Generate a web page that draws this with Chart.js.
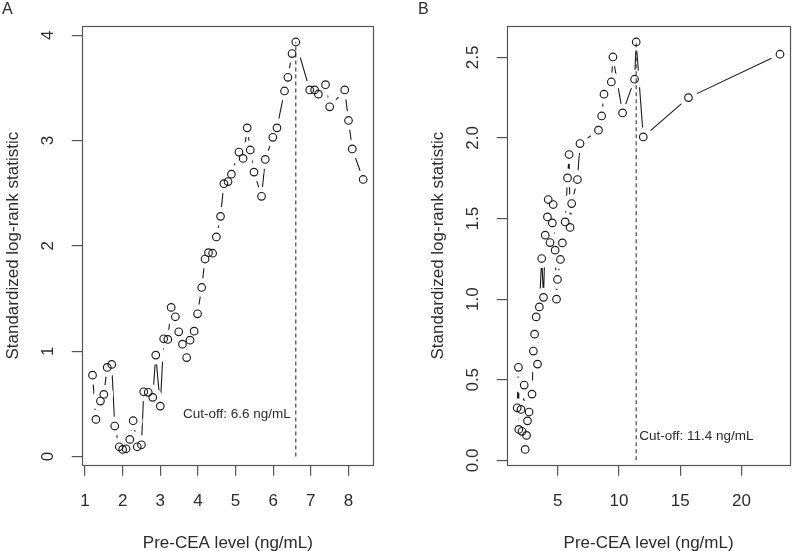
<!DOCTYPE html>
<html>
<head>
<meta charset="utf-8">
<script src="https://cdn.jsdelivr.net/npm/chart.js@4/dist/chart.umd.min.js"></script>
<style>
  html,body{margin:0;padding:0;background:#fff;}
  #wrap{display:flex;width:800px;height:551px;}
  canvas{display:block;}
</style>
</head>
<body>
<div id="wrap">
  <canvas id="chartA" width="400" height="551"></canvas>
  <canvas id="chartB" width="400" height="551"></canvas>
</div>
<script>
// ---------- Panel A data ----------
const xA = [1.20,1.29,1.41,1.50,1.59,1.71,1.79,1.91,2.00,2.09,2.19,2.28,2.39,2.50,2.56,2.68,2.80,2.88,3.00,3.09,
            3.20,3.29,3.40,3.49,3.59,3.70,3.79,3.90,3.99,4.10,4.19,4.28,4.39,4.49,4.60,4.69,4.80,4.89,5.09,5.20,
            5.31,5.39,5.49,5.69,5.79,5.99,6.10,6.30,6.39,6.50,6.60,6.97,7.10,7.20,7.39,7.50,7.90,8.00,8.10,8.39];
const yA = [0.773,0.353,0.527,0.59,0.846,0.875,0.29,0.093,0.068,0.074,0.163,0.34,0.093,0.112,0.615,0.61,0.562,0.963,0.479,1.118,
            1.112,1.416,1.327,1.184,1.067,0.94,1.105,1.19,1.355,1.605,1.875,1.935,1.93,2.085,2.28,2.59,2.61,2.68,2.89,2.83,
            3.12,2.91,2.70,2.47,2.82,3.03,3.12,3.47,3.60,3.825,3.935,3.48,3.48,3.44,3.53,3.32,3.48,3.19,2.92,2.63];
const xTicksA = [1,2,3,4,5,6,7,8];
const xTickLabelsA = ["1","2","3","4","5","6","7","8"];
const yTicksA = [0,1,2,3,4];
const yTickLabelsA = ["0","1","2","3","4"];
const cutoffA = 6.6;
const cutoffLabelA = "Cut-off: 6.6 ng/mL";
const cutoffLabelYA = 0.4;

// ---------- Panel B data ----------
const xB = [1.68,1.78,1.81,1.99,2.07,2.25,2.33,2.44,2.52,2.65,2.89,3.00,3.10,3.23,3.34,3.49,3.68,3.83,3.97,4.15,
            4.21,4.36,4.55,4.62,4.78,4.89,4.97,5.21,5.37,5.60,5.79,5.92,6.00,6.13,6.60,6.81,8.32,8.58,8.77,9.37,
            9.50,10.29,11.27,11.40,11.98,15.67,23.15];
const yB = [0.326,0.577,0.192,0.316,0.18,0.467,0.068,0.155,0.245,0.30,0.411,0.678,0.783,0.89,0.597,0.952,1.252,1.011,1.397,1.51,
            1.618,1.351,1.473,1.587,1.304,1.0,1.122,1.246,1.349,1.479,1.752,1.897,1.445,1.593,1.742,1.965,2.048,2.136,2.271,2.347,
            2.502,2.155,2.364,2.595,2.006,2.25,2.519];
const xTicksB = [5,10,15,20];
const xTickLabelsB = ["5","10","15","20"];
const yTicksB = [0,0.5,1,1.5,2,2.5];
const yTickLabelsB = ["0.0","0.5","1.0","1.5","2.0","2.5"];
const cutoffB = 11.4;
const cutoffLabelB = "Cut-off: 11.4 ng/mL";
const cutoffLabelYB = 0.15;

const xTitle = "Pre-CEA level (ng/mL)";
const yTitle = "Standardized log-rank statistic";

// ---------- helpers ----------
const FONT = "'Liberation Sans', Arial, Helvetica, sans-serif";
const INK = '#1a1a1a';
const FRAME = '#555';
const TEXT = '#2b2b2b';

function rLimits(arr){
  const mn = Math.min(...arr), mx = Math.max(...arr), r = mx - mn;
  return [mn - 0.04*r, mx + 0.04*r];
}

function makeChart(canvasId, p){
  const pts = p.xs.map((x,i)=>({x:x, y:p.ys[i]}));
  const [xmin,xmax] = rLimits(p.xs);
  const [ymin,ymax] = rLimits(p.ys);
  const peak = Math.max(...p.ys);

  const textPlugin = {
    id: 'rtext_'+canvasId,
    afterDraw(chart){
      const ctx = chart.ctx;
      const a = chart.chartArea;
      const xs = chart.scales.x, ys = chart.scales.y;
      ctx.save();
      // box
      ctx.strokeStyle = FRAME; ctx.lineWidth = 1.2;
      ctx.strokeRect(Math.round(a.left)+0.5, Math.round(a.top)+0.5, Math.round(a.right-a.left)-1, Math.round(a.bottom-a.top)-1);
      ctx.fillStyle = TEXT;
      // x tick labels
      ctx.font = '17px ' + FONT;
      ctx.textAlign = 'center'; ctx.textBaseline = 'alphabetic';
      p.xTicks.forEach((v,i)=>{
        ctx.fillText(p.xTickLabels[i], xs.getPixelForValue(v), a.bottom + 40);
      });
      // x title
      ctx.fillText(xTitle, (a.left + a.right)/2, a.bottom + 82);
      // y tick labels (rotated)
      p.yTicks.forEach((v,i)=>{
        ctx.save();
        ctx.translate(a.left - 33, ys.getPixelForValue(v));
        ctx.rotate(-Math.PI/2);
        ctx.textAlign = 'center'; ctx.textBaseline = 'middle';
        ctx.fillText(p.yTickLabels[i], 0, 0);
        ctx.restore();
      });
      // y title
      ctx.save();
      ctx.translate(a.left - 64, (a.top + a.bottom)/2);
      ctx.rotate(-Math.PI/2);
      ctx.textAlign = 'center'; ctx.textBaseline = 'alphabetic';
      ctx.fillText(yTitle, 0, 0);
      ctx.restore();
      // panel letter
      ctx.font = '16px ' + FONT;
      ctx.textAlign = 'left'; ctx.textBaseline = 'alphabetic';
      ctx.fillText(p.letter, p.letterX, 14);
      // cutoff text
      ctx.font = '13.5px ' + FONT;
      ctx.textBaseline = 'middle';
      const cx = xs.getPixelForValue(p.cutoff), cy = ys.getPixelForValue(p.cutY);
      if (p.cutSide === 'left') { ctx.textAlign = 'right'; ctx.fillText(p.cutText, cx - 5, cy); }
      else { ctx.textAlign = 'left'; ctx.fillText(p.cutText, cx + 3, cy); }
      ctx.restore();
    }
  };

  return new Chart(document.getElementById(canvasId), {
    type: 'scatter',
    data: {
      datasets: [
        { // open circles
          data: pts, order: 1, showLine: false,
          pointRadius: 3.8, pointBorderWidth: 1.15, pointBorderColor: INK,
          pointBackgroundColor: 'rgba(0,0,0,0)'
        },
        { // cutoff dashed line
          data: [{x:p.cutoff, y:0},{x:p.cutoff, y:peak}], order: 2, showLine: true,
          borderColor: '#333', borderWidth: 1.1, borderDash: [4,3], pointRadius: 0
        },
        { // white gaps around points (R type="b")
          data: pts, order: 3, showLine: false,
          pointRadius: 9.5, pointBorderWidth: 0, pointBorderColor: '#fff',
          pointBackgroundColor: '#fff'
        },
        { // connecting line
          data: pts, order: 4, showLine: true,
          borderColor: INK, borderWidth: 1.1, pointRadius: 0, tension: 0
        }
      ]
    },
    options: {
      responsive: false, animation: false, devicePixelRatio: 1, events: [],
      layout: { padding: { left: 0, right: p.padRight, top: 25.7, bottom: 0 } },
      plugins: { legend: { display: false }, tooltip: { enabled: false } },
      scales: {
        x: {
          type: 'linear', min: xmin, max: xmax,
          afterBuildTicks: s => { s.ticks = p.xTicks.map(v=>({value:v})); },
          afterFit: s => { s.height = 85.3; },
          ticks: { display: false },
          border: { display: false },
          grid: { drawOnChartArea: false, drawTicks: true, tickLength: 10, color: FRAME, lineWidth: 1.2 }
        },
        y: {
          type: 'linear', min: ymin, max: ymax,
          afterBuildTicks: s => { s.ticks = p.yTicks.map(v=>({value:v})); },
          afterFit: s => { s.width = p.areaLeft; },
          ticks: { display: false },
          border: { display: false },
          grid: { drawOnChartArea: false, drawTicks: true, tickLength: 10, color: FRAME, lineWidth: 1.2 }
        }
      }
    },
    plugins: [textPlugin]
  });
}

makeChart('chartA', {
  xs: xA, ys: yA, xTicks: xTicksA, xTickLabels: xTickLabelsA, yTicks: yTicksA, yTickLabels: yTickLabelsA,
  cutoff: cutoffA, cutText: cutoffLabelA, cutY: cutoffLabelYA, cutSide: 'left',
  letter: 'A', letterX: 2, areaLeft: 81.7, padRight: 26
});
makeChart('chartB', {
  xs: xB, ys: yB, xTicks: xTicksB, xTickLabels: xTickLabelsB, yTicks: yTicksB, yTickLabels: yTickLabelsB,
  cutoff: cutoffB, cutText: cutoffLabelB, cutY: cutoffLabelYB, cutSide: 'right',
  letter: 'B', letterX: 18, areaLeft: 106.7, padRight: 1
});
</script>
</body>
</html>
